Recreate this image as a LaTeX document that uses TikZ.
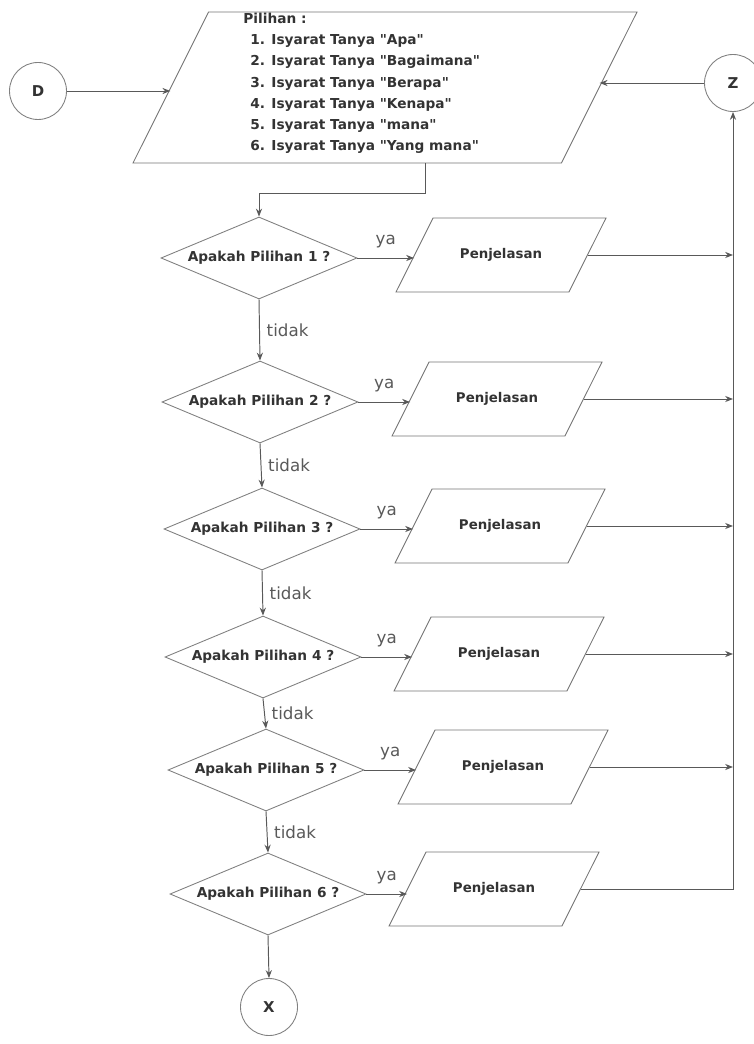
\documentclass[tikz,border=0pt]{standalone}
\usepackage{fontspec}
\setmainfont{DejaVu Sans}[Ligatures=TeXOff]
\usetikzlibrary{shapes.geometric,arrows.meta,positioning}

\begin{document}
\begin{tikzpicture}[x=0.2mm,y=-0.2mm,>={Stealth[length=4.5pt,width=3.5pt]},
	line/.style={draw=black!65,line width=0.55pt},
	conn/.style={circle,draw=black!50,line width=0.5pt,minimum size=11.4mm,inner sep=0pt,text=black!80,font=\fontsize{8.5}{10}\selectfont\bfseries},
	decision/.style={diamond,aspect=2.39,draw=black!50,line width=0.5pt,minimum width=39.2mm,minimum height=16.4mm,inner sep=0pt,text=black!80,font=\fontsize{7.8}{9}\selectfont\bfseries},
	io/.style={trapezium,trapezium left angle=63.4,trapezium right angle=116.6,trapezium stretches body,draw=black!55,line width=0.5pt,minimum width=42mm,inner xsep=0pt,inner ysep=6.17mm,text height=5.5pt,text depth=1.5pt,text=black!80,font=\fontsize{7.6}{9}\selectfont\bfseries},
	menutext/.style={anchor=north west,align=left,inner sep=0pt,text=black!80,font=\fontsize{7.8}{12}\selectfont\bfseries},
	lbl/.style={inner sep=1pt,text=black!65,font=\fontsize{9.5}{10}\selectfont}]
	\useasboundingbox (0,0) rectangle (753,1044);

	 \node at (38,91) [conn] (D) {D};
	 \node at (385,87.5) [io,minimum width=100.8mm,inner ysep=15.1mm,text height=0pt,text depth=0pt] (menu) {};
	 \node at (243,13) [menutext] (pilihan) {Pilihan :\\
		\hspace*{1.4mm}1. Isyarat Tanya "Apa"\\
		\hspace*{1.4mm}2. Isyarat Tanya "Bagaimana"\\
		\hspace*{1.4mm}3. Isyarat Tanya "Berapa"\\
		\hspace*{1.4mm}4. Isyarat Tanya "Kenapa"\\
		\hspace*{1.4mm}5. Isyarat Tanya "mana"\\
		\hspace*{1.4mm}6. Isyarat Tanya "Yang mana"};
	 \node at (733,83) [conn] (Z) {Z};

	 \node at (259,258) [decision] (tanya1) {Apakah Pilihan 1 ?};
	 \node at (501,255) [io] (jelas1) {Penjelasan};
	 \node at (260,402) [decision] (tanya2) {Apakah Pilihan 2 ?};
	 \node at (497,399) [io] (jelas2) {Penjelasan};
	 \node at (262,529) [decision] (tanya3) {Apakah Pilihan 3 ?};
	 \node at (500,526) [io] (jelas3) {Penjelasan};
	 \node at (263,657) [decision] (tanya4) {Apakah Pilihan 4 ?};
	 \node at (499,654) [io] (jelas4) {Penjelasan};
	 \node at (266,770) [decision] (tanya5) {Apakah Pilihan 5 ?};
	 \node at (503,767) [io] (jelas5) {Penjelasan};
	 \node at (268,894) [decision] (tanya6) {Apakah Pilihan 6 ?};
	 \node at (494,889) [io] (jelas6) {Penjelasan};
	 \node at (269,1007) [conn] (X) {X};

	 \draw[line,->] (D.east) -- (D.east -| menu.west);
	 \draw[line,->] (Z.west) -- (Z.west -| menu.east);
	 \draw[line,->] ([xshift=8mm]menu.south) -- ++(0,30) -| (tanya1.north);

	 \draw[line,->] (tanya1.east) -- node[lbl,above=1.6mm] {ya} (tanya1.east -| jelas1.west);
	 \draw[line,->] (tanya2.east) -- node[lbl,above=1.6mm] {ya} (tanya2.east -| jelas2.west);
	 \draw[line,->] (tanya3.east) -- node[lbl,above=1.6mm] {ya} (tanya3.east -| jelas3.west);
	 \draw[line,->] (tanya4.east) -- node[lbl,above=1.6mm] {ya} (tanya4.east -| jelas4.west);
	 \draw[line,->] (tanya5.east) -- node[lbl,above=1.6mm] {ya} (tanya5.east -| jelas5.west);
	 \draw[line,->] (tanya6.east) -- node[lbl,above=1.6mm] {ya} (tanya6.east -| jelas6.west);

	 \draw[line,->] (tanya1.south) -- node[lbl,right,xshift=1mm] {tidak} (tanya2.north);
	 \draw[line,->] (tanya2.south) -- node[lbl,right,xshift=1mm] {tidak} (tanya3.north);
	 \draw[line,->] (tanya3.south) -- node[lbl,right,xshift=1mm] {tidak} (tanya4.north);
	 \draw[line,->] (tanya4.south) -- node[lbl,right,xshift=1mm] {tidak} (tanya5.north);
	 \draw[line,->] (tanya5.south) -- node[lbl,right,xshift=1mm] {tidak} (tanya6.north);
	 \draw[line,->] (tanya6.south) -- (X.north);

	 \draw[line,->] (jelas1.east) -- (jelas1.east -| Z.south);
	 \draw[line,->] (jelas2.east) -- (jelas2.east -| Z.south);
	 \draw[line,->] (jelas3.east) -- (jelas3.east -| Z.south);
	 \draw[line,->] (jelas4.east) -- (jelas4.east -| Z.south);
	 \draw[line,->] (jelas5.east) -- (jelas5.east -| Z.south);
	 \draw[line,->] (jelas6.east) -| (Z.south);

\end{tikzpicture}
\end{document}
